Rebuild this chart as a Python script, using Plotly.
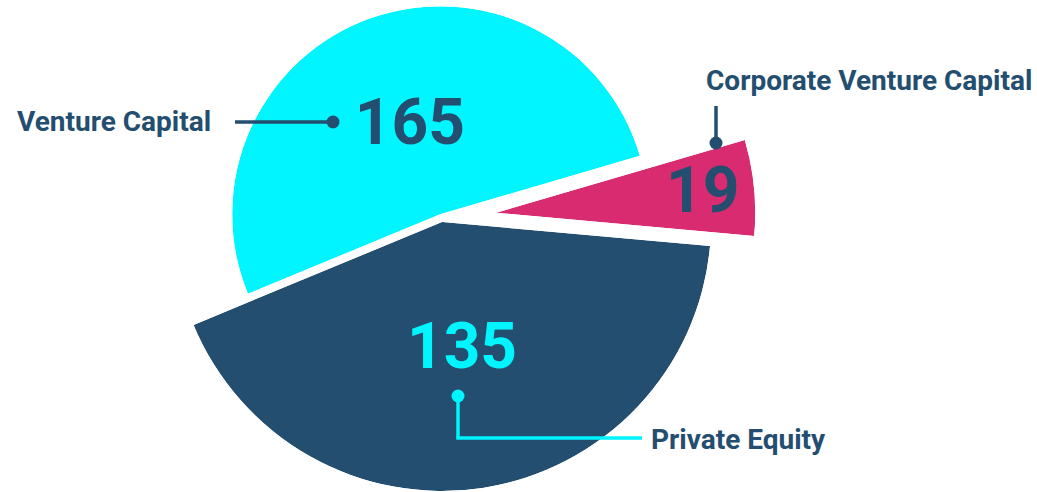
import math
import plotly.graph_objects as go

# ---- data ----
categories = ["Venture Capital", "Corporate Venture Capital", "Private Equity"]
values = [165, 19, 135]

# ---- style ----
W, H = 1037, 492
NAVY = "#234E6F"
CYAN = "#00F5FF"
PINK = "#D92B6F"
slice_colors = [CYAN, PINK, NAVY]
value_colors = [NAVY, NAVY, CYAN]
radii_px = [208, 259, 269]      # outer radius of each slice
pulls_px = [4, 55, 4]           # explode distance of each slice
value_frac = [0.44, 0.80, 0.49]
value_dtheta = [0.0, -1.0, 0.0]
start_angle = 202.5             # math degrees; slices run clockwise
center_px = (441.5, 218.0)
FONT = "Roboto"


def sector_bbox(s0, s1):
    arc = s1 - s0
    a0 = s0 % 360
    a1 = a0 + arc
    c0, n0 = math.cos(math.radians(a0)), math.sin(math.radians(a0))
    c1, n1 = math.cos(math.radians(a1)), math.sin(math.radians(a1))
    if (a0 <= 90 and a1 >= 90) or (a0 > 90 and a1 >= 450):
        y1 = 1
    elif n0 <= 0 and n1 <= 0:
        y1 = 0
    else:
        y1 = max(n0, n1)
    if (a0 <= 180 and a1 >= 180) or (a0 > 180 and a1 >= 540):
        x0 = -1
    elif c0 >= 0 and c1 >= 0:
        x0 = 0
    else:
        x0 = min(c0, c1)
    if (a0 <= 270 and a1 >= 270) or (a0 > 270 and a1 >= 630):
        y0 = -1
    elif n0 >= 0 and n1 >= 0:
        y0 = 0
    else:
        y0 = min(n0, n1)
    if a1 >= 360:
        x1 = 1
    elif c0 <= 0 and c1 <= 0:
        x1 = 0
    else:
        x1 = max(c0, c1)
    return x0, y0, x1, y1


def px(x):
    return x / W


def py(y):
    return 1 - y / H


fig = go.Figure()
layout_polars = {}
total = sum(values)
cum = 0.0
for i, (cat, v) in enumerate(zip(categories, values)):
    span = v / total * 360.0
    hi = start_angle - cum
    lo = hi - span
    cum += span
    mid = (hi + lo) / 2
    R = radii_px[i]
    ax = center_px[0] + pulls_px[i] * math.cos(math.radians(mid))
    ay = center_px[1] - pulls_px[i] * math.sin(math.radians(mid))
    x0, y0, x1, y1 = sector_bbox(lo, hi)
    dom_x = [max(0, px(ax + R * x0)), min(1, px(ax + R * x1))]
    dom_y = [max(0, py(ay - R * y0)), min(1, py(ay - R * y1))]
    key = "polar" if i == 0 else f"polar{i + 1}"
    fig.add_trace(go.Barpolar(
        r=[1], theta=[mid], width=[span], base=0,
        marker=dict(color=slice_colors[i], line=dict(width=0)),
        subplot=key, name=cat, hoverinfo="name",
    ))
    fig.add_trace(go.Scatterpolar(
        r=[value_frac[i]], theta=[mid + value_dtheta[i]], mode="text", text=[str(v)],
        textposition="middle center",
        textfont=dict(family=FONT, size=64, color=value_colors[i], weight="bold"),
        subplot=key, cliponaxis=False, hoverinfo="skip",
    ))
    layout_polars[key] = dict(
        domain=dict(x=dom_x, y=dom_y),
        sector=[lo, hi],
        bgcolor="rgba(0,0,0,0)",
        radialaxis=dict(visible=False, range=[0, 1], showgrid=False),
        angularaxis=dict(visible=False, showgrid=False),
    )

fig.update_layout(**layout_polars)

# ---- category labels with leader lines ----
LW = 3.5
DOT = 6.5
shapes = []


def line(xa, ya, xb, yb, color):
    shapes.append(dict(type="line", xref="paper", yref="paper",
                       x0=px(xa), y0=py(ya), x1=px(xb), y1=py(yb),
                       line=dict(color=color, width=LW)))


def dot(x, y, color):
    shapes.append(dict(type="circle", xref="paper", yref="paper",
                       x0=px(x - DOT), x1=px(x + DOT), y0=py(y + DOT), y1=py(y - DOT),
                       fillcolor=color, line=dict(width=0)))


line(235, 122, 333, 122, NAVY)
dot(333, 122, NAVY)
line(716, 106, 716, 143, NAVY)
dot(716, 143, NAVY)
line(458, 396, 458, 438, CYAN)
line(456.25, 438, 642, 438, CYAN)
dot(458, 396, CYAN)

label_font = dict(family=FONT, size=28, color=NAVY, weight="bold")
annotations = [
    dict(text=categories[0], x=px(213), y=py(122), xanchor="right", yanchor="middle"),
    dict(text=categories[1], x=px(704), y=py(80), xanchor="left", yanchor="middle"),
    dict(text=categories[2], x=px(649), y=py(439), xanchor="left", yanchor="middle"),
]
for a in annotations:
    a.update(xref="paper", yref="paper", showarrow=False, font=label_font)

fig.update_layout(
    width=W, height=H,
    margin=dict(l=0, r=0, t=0, b=0),
    paper_bgcolor="white", plot_bgcolor="white",
    showlegend=False,
    shapes=shapes, annotations=annotations,
)

fig.write_html(
    "out.html",
    config={"displayModeBar": False},
    post_script="document.body.style.margin='0';document.body.style.overflow='hidden';",
)
